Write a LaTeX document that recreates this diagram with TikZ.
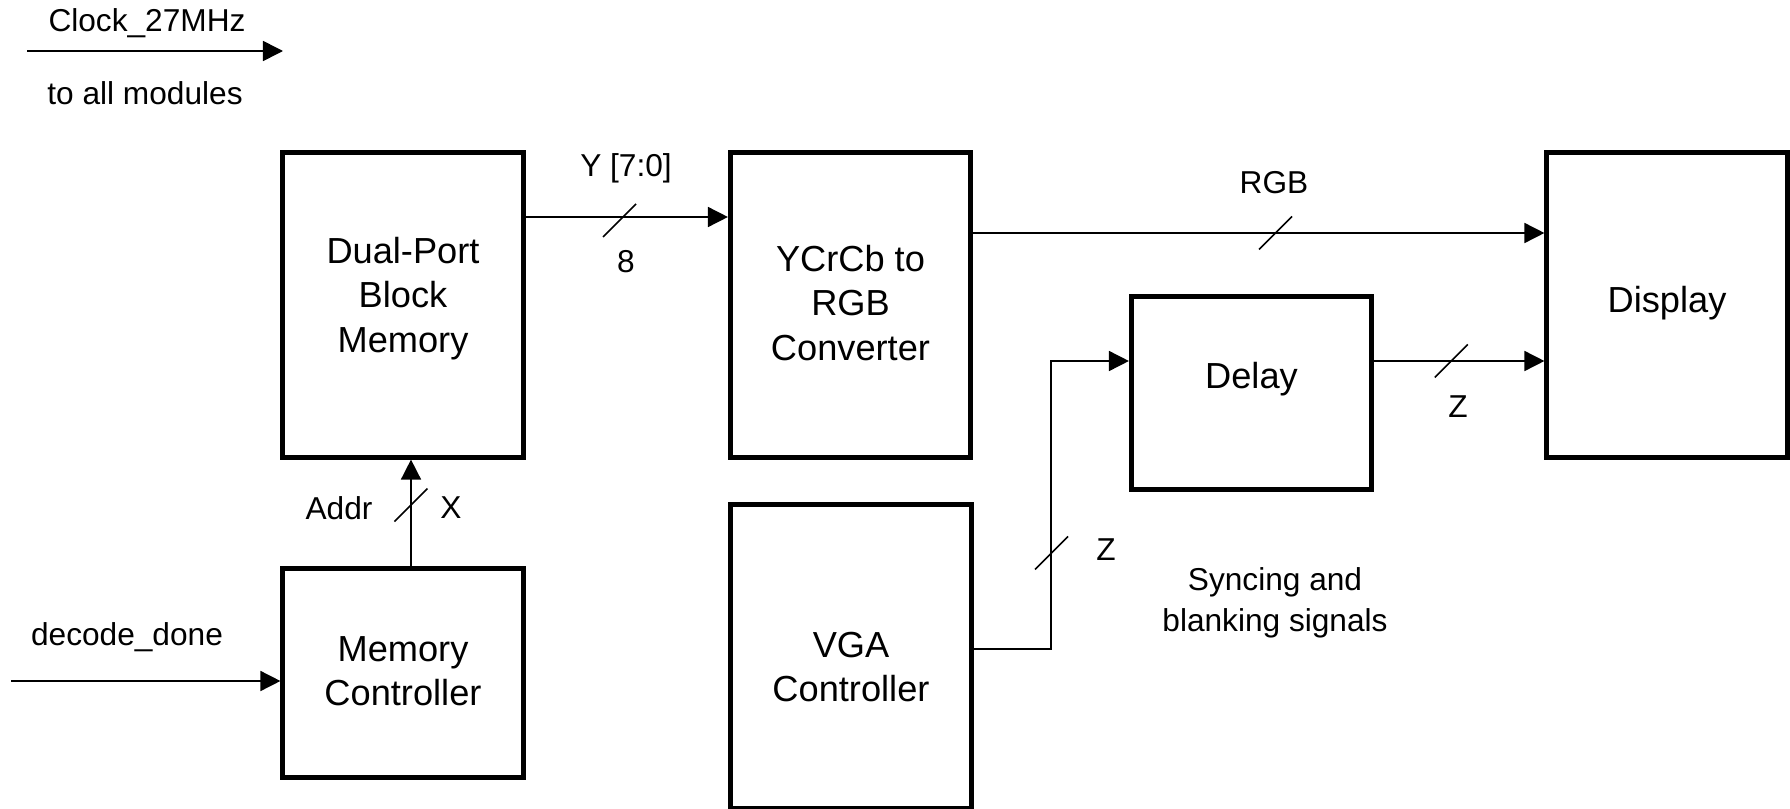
\documentclass[tikz,border=0pt]{standalone}
\usepackage{fontspec}
\setmainfont{Liberation Sans}
\usepackage{xcolor}
\usetikzlibrary{arrows.meta,positioning,calc}
\definecolor{ink}{RGB}{0,0,0}
\tikzset{
  block/.style={draw=ink,line width=1.42pt,minimum width=2.4cm,inner sep=0pt},
  blocktext/.style={align=center,font=\fontsize{10.3}{12.6}\selectfont,text=ink,inner sep=0pt},
  wire/.style={line width=0.45pt,ink},
  sig/.style={wire,-{Triangle[length=2mm,width=2mm]}},
  tag/.style={font=\fontsize{9}{11.6}\selectfont,align=center,text=ink,inner sep=0pt}
}

\begin{document}
\begin{tikzpicture}[x=0.01cm,y=-0.01cm]
  \useasboundingbox (0,0) rectangle (1790,809);
  % blocks
  \node[block,minimum height=3.04cm] (dpbm) at (403,305) {};
  \node[block,minimum height=2.08cm] (memc) at (403,673) {};
  \node[block,minimum height=3.04cm] (ycc) at (850.5,305) {};
  \node[block,minimum height=3.03cm] (vga) at (851,656.5) {};
  \node[block,minimum height=1.93cm] (delay) at (1251.5,393) {};
  \node[block,minimum height=3.04cm] (disp) at (1667,305) {};
  \node[blocktext] (dpbmtxt) at ($(dpbm)+(0,-6.5)$) {Dual-Port\\Block\\Memory};
  \node[blocktext] (memctxt) at ($(memc)+(0,-2)$) {Memory\\Controller};
  \node[blocktext] (ycctxt) at ($(ycc)+(0,-2)$) {YCrCb to\\RGB\\Converter};
  \node[blocktext] (vgatxt) at ($(vga)+(0,10.5)$) {VGA\\Controller};
  \node[blocktext] (delaytxt) at ($(delay)+(0,-13.5)$) {Delay};
  \node[blocktext] (disptxt) at ($(disp)+(0,-2)$) {Display};
  % free ends
  \coordinate (clkin) at (27,51);
  \coordinate (clkout) at (283,51);
  \coordinate (donein) at (11,681);
  \coordinate (vgabend) at (1051,361);
  % connectors
  \draw[sig] (clkin) -- (clkout);
  \draw[sig] (donein) -- (memc.west |- donein);
  \draw[sig] (memc.north -| 411,0) -- (dpbm.south -| 411,0);
  \draw[sig] (dpbm.east |- 0,217) -- (ycc.west |- 0,217);
  \draw[sig] (ycc.east |- 0,233) -- (disp.west |- 0,233);
  \draw[sig] (delay.east |- vgabend) -- (disp.west |- vgabend);
  \draw[sig] (vga.east |- 0,649) -| (vgabend) -- (delay.west |- vgabend);
  % bus slashes
  \foreach \p in {(619.5,220.5),(1275.5,233),(411,505),(1451.3,361),(1051.5,553)}
    {\draw[wire] \p ++(-16.5,16.5) -- ++(33,-33);}
  % labels
  \node[tag] (clklbl) at (147,23) {Clock\_27MHz};
  \node[tag] (alllbl) at (145,93) {to all modules};
  \node[tag] (donelbl) at (127,637) {decode\_done};
  \node[tag] (addrlbl) at (339,508) {Addr};
  \node[tag] (xlbl) at (451,508) {X};
  \node[tag] (ylbl) at (626,168) {Y [7:0]};
  \node[tag] (wlbl) at (626,262) {8};
  \node[tag] (rgblbl) at (1274,183) {RGB};
  \node[tag] (zlbl) at (1458,407) {Z};
  \node[tag] (zvlbl) at (1106,550) {Z};
  \node[tag] (synclbl) at (1275,603) {Syncing and\\blanking signals};
\end{tikzpicture}
\end{document}
